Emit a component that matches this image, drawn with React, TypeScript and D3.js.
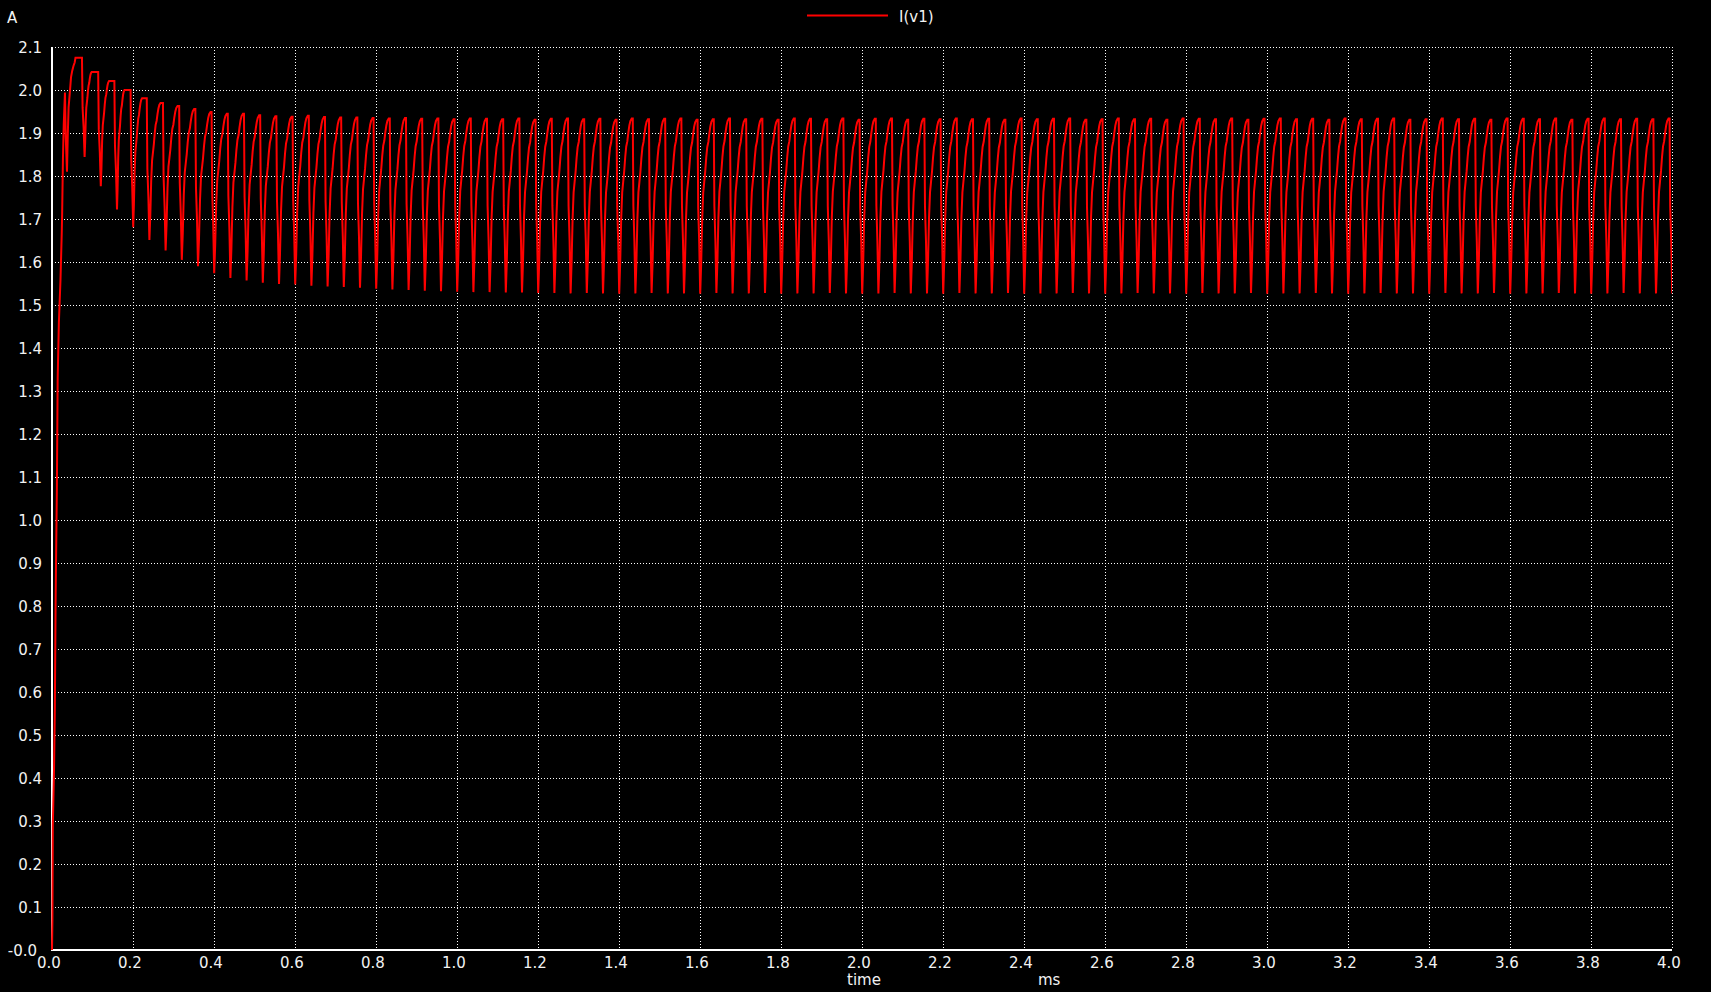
import React from "react";
import * as d3 from "d3";

// ---------- data ----------
const xTickValues = [0, 0.2, 0.4, 0.6, 0.8, 1.0, 1.2, 1.4, 1.6, 1.8, 2.0, 2.2, 2.4, 2.6, 2.8, 3.0, 3.2, 3.4, 3.6, 3.8, 4.0];
const xTickLabels = ["0.0", "0.2", "0.4", "0.6", "0.8", "1.0", "1.2", "1.4", "1.6", "1.8", "2.0", "2.2", "2.4", "2.6", "2.8", "3.0", "3.2", "3.4", "3.6", "3.8", "4.0"];
const yTickValues = [0, 0.1, 0.2, 0.3, 0.4, 0.5, 0.6, 0.7, 0.8, 0.9, 1.0, 1.1, 1.2, 1.3, 1.4, 1.5, 1.6, 1.7, 1.8, 1.9, 2.0, 2.1];
const yTickLabels = ["-0.0", "0.1", "0.2", "0.3", "0.4", "0.5", "0.6", "0.7", "0.8", "0.9", "1.0", "1.1", "1.2", "1.3", "1.4", "1.5", "1.6", "1.7", "1.8", "1.9", "2.0", "2.1"];

const seriesName = "I(v1)";
const yUnit = "A";
const xName = "time";
const xUnit = "ms";

// start-up segment (ms, A)
const initTimes = [0, 0.001, 0.002, 0.005, 0.007, 0.009, 0.012, 0.014, 0.017, 0.021, 0.024, 0.025, 0.027, 0.029, 0.032, 0.034, 0.037, 0.039, 0.041, 0.044, 0.047, 0.05, 0.053, 0.056, 0.058];
const initValues = [0, 0.07, 0.29, 0.42, 0.56, 0.82, 1.07, 1.33, 1.46, 1.56, 1.665, 1.71, 1.84, 1.92, 1.994, 1.89, 1.81, 1.897, 1.96, 1.994, 2.03, 2.045, 2.056, 2.064, 2.075];

// switching cycles: time of first drop and period (ms)
const firstDrop = 0.074;
const cyclePeriod = 0.04;

// value at top of each cycle, just before its drop (A)
const cyclePeaks = [
  2.075, 2.042, 2.021, 2.0, 1.981, 1.97, 1.963, 1.956, 1.949, 1.945,
  1.945, 1.941, 1.939, 1.938, 1.94, 1.937, 1.936, 1.936, 1.935, 1.934,
  1.935, 1.933, 1.934, 1.932, 1.934, 1.933, 1.932, 1.934, 1.931, 1.933,
  1.934, 1.932, 1.933, 1.931, 1.934, 1.932, 1.933, 1.934, 1.931, 1.932,
  1.934, 1.932, 1.933, 1.931, 1.934, 1.933, 1.932, 1.934, 1.931, 1.933,
  1.934, 1.931, 1.933, 1.932, 1.934, 1.932, 1.933, 1.931, 1.934, 1.932,
  1.933, 1.934, 1.931, 1.932, 1.934, 1.932, 1.933, 1.931, 1.934, 1.933,
  1.932, 1.934, 1.931, 1.933, 1.934, 1.932, 1.933, 1.931, 1.934, 1.932,
  1.933, 1.934, 1.931, 1.932, 1.934, 1.932, 1.933, 1.931, 1.934, 1.933,
  1.932, 1.934, 1.931, 1.933, 1.934, 1.932, 1.933, 1.932, 1.934,
];

// lowest value after each drop (A)
const cycleMins = [
  1.844, 1.776, 1.722, 1.681, 1.651, 1.627, 1.605, 1.59, 1.574, 1.563,
  1.557, 1.552, 1.549, 1.548, 1.545, 1.543, 1.542, 1.54, 1.538, 1.536,
  1.535, 1.533, 1.532, 1.531, 1.53, 1.53, 1.529, 1.529, 1.528, 1.528,
  1.527, 1.528, 1.527, 1.526, 1.527, 1.528, 1.527, 1.527, 1.526, 1.528,
  1.527, 1.527, 1.528, 1.526, 1.527, 1.527, 1.528, 1.527, 1.526, 1.527,
  1.528, 1.527, 1.527, 1.526, 1.528, 1.527, 1.527, 1.528, 1.526, 1.527,
  1.527, 1.528, 1.527, 1.526, 1.527, 1.528, 1.527, 1.527, 1.526, 1.528,
  1.527, 1.527, 1.528, 1.526, 1.527, 1.527, 1.528, 1.527, 1.526, 1.527,
  1.528, 1.527, 1.527, 1.526, 1.528, 1.527, 1.527, 1.528, 1.526, 1.527,
  1.527, 1.528, 1.527, 1.526, 1.527, 1.528, 1.527, 1.527, 1.527,
];

// flat-top length before each drop (ms); later cycles use steadyPlateau
const cyclePlateaus = [0.014, 0.016, 0.013, 0.015, 0.0115, 0.006, 0.004, 0.003];
const steadyPlateau = 0.0025;

// shape of the fall after a drop: time offsets (ms) and fraction between min and peak
const fallOffsets = [0, 0.0015, 0.004, 0.0065];
const fallFractions = [1, 0.5, 0.3, 0];

// shape of the ramp from min to next peak: fraction of ramp time, fraction of height
const rampTimeFractions = [0, 0.08, 0.16, 0.24, 0.32, 0.4, 0.48, 0.56, 0.65, 0.73, 0.81, 0.89, 1];
const rampValueFractions = [0, 0.18, 0.43, 0.58, 0.64, 0.7, 0.78, 0.84, 0.87, 0.92, 0.96, 0.985, 1];

// ---------- build the trace from the arrays ----------
function buildTrace(): [number, number][] {
  const pts: [number, number][] = initTimes.map((t, i) => [t, initValues[i]]);
  const dropTime = (j: number) => firstDrop + cyclePeriod * j;
  const plateau = (j: number) => (j < cyclePlateaus.length ? cyclePlateaus[j] : steadyPlateau);
  pts.push([dropTime(0), cyclePeaks[0]]);
  for (let j = 0; j < cyclePeaks.length; j++) {
    const d = dropTime(j);
    const pk = cyclePeaks[j];
    const mn = cycleMins[j];
    for (let k = 1; k < fallOffsets.length; k++) {
      pts.push([d + fallOffsets[k], mn + fallFractions[k] * (pk - mn)]);
    }
    const tMin = d + fallOffsets[fallOffsets.length - 1];
    const nextD = dropTime(j + 1);
    if (j + 1 < cyclePeaks.length) {
      const npk = cyclePeaks[j + 1];
      const tTop = nextD - plateau(j + 1);
      const R = tTop - tMin;
      for (let k = 1; k < rampTimeFractions.length; k++) {
        pts.push([tMin + rampTimeFractions[k] * R, mn + rampValueFractions[k] * (npk - mn)]);
      }
      pts.push([nextD, npk]);
    }
  }
  return pts;
}

const W = 1711;
const H = 992;
const plotLeft = 52;
const plotRight = 1672;
const plotTop = 47;
const plotBottom = 950;

export default function App() {
  const x = d3.scaleLinear().domain([0, 4]).range([plotLeft, plotRight]);
  const y = d3.scaleLinear().domain([0, 2.1]).range([plotBottom, plotTop]);
  const data = buildTrace();
  const line = d3
    .line<[number, number]>()
    .x((d) => x(d[0]))
    .y((d) => y(d[1]));
  const font = "'DejaVu Sans', sans-serif";
  const txt = "#f2f2f2";

  return (
    <svg
      width={W}
      height={H}
      style={{ position: "absolute", left: 0, top: 0, display: "block", background: "#000" }}
    >
      <rect x={0} y={0} width={W} height={H} fill="#000" />
      <defs>
        <clipPath id="plotclip">
          <rect x={plotLeft - 2} y={plotTop - 10} width={plotRight - plotLeft + 2} height={plotBottom - plotTop + 12} />
        </clipPath>
      </defs>
      {/* grid */}
      <g stroke="#fff" strokeWidth={1} strokeDasharray="1,2" shapeRendering="crispEdges">
        {xTickValues.slice(1).map((v) => (
          <line key={"gx" + v} x1={Math.round(x(v)) + 0.5} x2={Math.round(x(v)) + 0.5} y1={plotTop} y2={plotBottom} />
        ))}
        {yTickValues.slice(1).map((v) => (
          <line key={"gy" + v} x1={plotLeft} x2={plotRight} y1={Math.round(y(v)) + 0.5} y2={Math.round(y(v)) + 0.5} />
        ))}
      </g>
      {/* axes */}
      <g stroke="#fff" strokeWidth={2} shapeRendering="crispEdges">
        <line x1={plotLeft} x2={plotLeft} y1={plotTop} y2={plotBottom + 1} />
        <line x1={plotLeft} x2={plotRight} y1={plotBottom} y2={plotBottom} />
      </g>
      {/* trace */}
      <path d={line(data) || ""} fill="none" stroke="#ff0000" strokeWidth={2} clipPath="url(#plotclip)" strokeLinejoin="miter" />
      {/* tick labels and titles */}
      <g fontFamily={font} fontSize={15} fill={txt}>
        {yTickValues.map((v, i) => (
          <text key={"yl" + v} x={i === 0 ? 37 : 42} y={y(v) + 6} textAnchor="end">
            {yTickLabels[i]}
          </text>
        ))}
        {xTickValues.map((v, i) => (
          <text key={"xl" + v} x={x(v) - 15} y={968}>
            {xTickLabels[i]}
          </text>
        ))}
        <text x={847} y={985}>{xName}</text>
        <text x={1038} y={985}>{xUnit}</text>
        <text x={7} y={23}>{yUnit}</text>
        <text x={899} y={22}>{seriesName}</text>
      </g>
      {/* legend */}
      <line x1={807} x2={888} y1={15.5} y2={15.5} stroke="#ff0000" strokeWidth={2} />
    </svg>
  );
}
